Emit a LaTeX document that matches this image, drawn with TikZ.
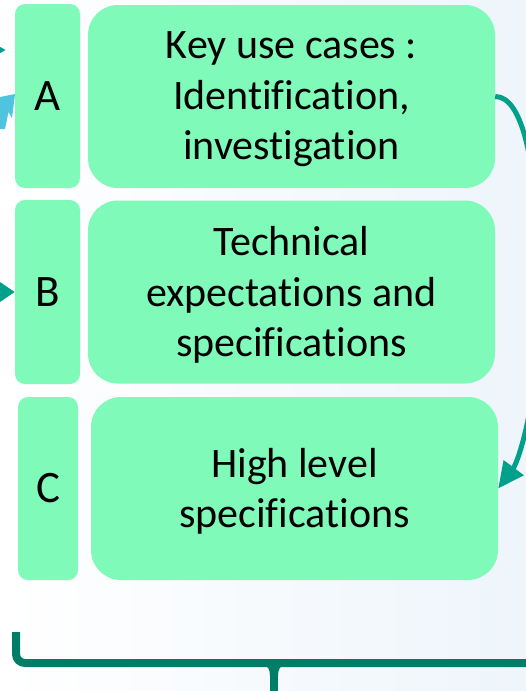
\documentclass[tikz,border=0pt]{standalone}
\usepackage{fontspec}
\setmainfont[Ligatures={NoCommon}]{Carlito}
\usetikzlibrary{arrows.meta}
\definecolor{boxgreen}{RGB}{128,250,184}
\definecolor{flowteal}{RGB}{0,160,138}
\definecolor{bracketteal}{RGB}{0,125,102}
\definecolor{skyblue}{RGB}{79,196,222}
\definecolor{paleblue}{RGB}{238,245,251}
\tikzset{
  tag/.style={fill=boxgreen, rounded corners=10pt, inner sep=0pt,
    font=\fontsize{45}{50}\selectfont},
  card/.style={fill=boxgreen, rounded corners=30pt, inner sep=0pt,
    minimum width=407pt, minimum height=183pt},
  cardtext/.style={inner sep=0pt, align=center, yshift=-3pt,
    font=\fontsize{42}{50.5}\selectfont},
  flow/.style={draw=flowteal, line width=5pt},
}
\begin{document}
\begin{tikzpicture}[x=1pt,y=-1pt]
  \useasboundingbox (0,0) rectangle (526,691);
  \clip (0,0) rectangle (526,691);
  \shade[left color=white, right color=paleblue] (0,0) rectangle (526,691);

  % letter tags
  \node[tag, minimum width=65pt, minimum height=184pt] (ta) at (47.5,96) {A};
  \node[tag, minimum width=65pt, minimum height=184pt] (tb) at (47.5,292) {B};
  \node[tag, minimum width=60pt, minimum height=183pt] (tc) at (48,488.5) {C};

  % content cards and their texts
  \node[card] (ka) at (291.5,96.5) {};
  \node[card] (kb) at (291.5,292) {};
  \node[card] (kc) at (294.5,488.5) {};
  \node[cardtext] (la) at (ka.center) {Key use cases :\\Identification,\\investigation};
  \node[cardtext] (lb) at (kb.center) {Technical\\expectations and\\specifications};
  \node[cardtext] (lc) at (kc.center) {High level\\specifications};

  % incoming arrows on the left
  \coordinate (ina) at (6,50);
  \coordinate (ina0) at (-40,50);
  \draw[flow, -{Triangle[length=20pt,width=20pt]}] (ina0) -- (ina);
  \draw[flow, -{Triangle[length=18pt,width=23pt]}] (-40,292) -- (tb.west);
  \fill[skyblue] (15,94) -- (0,97) -- (0,129) -- (5,129) -- (8.5,112) -- (12,118) -- cycle;

  % flow from card A round to card C
  \coordinate (bend) at (540,290);
  \draw[flow, -{Triangle[length=26pt,width=24pt]}]
    (ka.east) .. controls +(27,0) and +(-2,-130) .. (bend)
    .. controls +(0,110) and (518,462) .. (kc.east);

  % bracket under the cards
  \coordinate (bl) at (16,632);
  \coordinate (bm) at (274,663);
  \draw[bracketteal, line width=8pt, rounded corners=9pt]
    (bl) -- (16,663) -- (540,663);
  \draw[bracketteal, line width=8pt] (bm) -- (274,700);
  \fill[bracketteal] (263,665) .. controls (268,666) and (270,669) .. (270,676)
    -- (278,676) .. controls (278,669) and (280,666) .. (285,665) -- cycle;
\end{tikzpicture}
\end{document}
